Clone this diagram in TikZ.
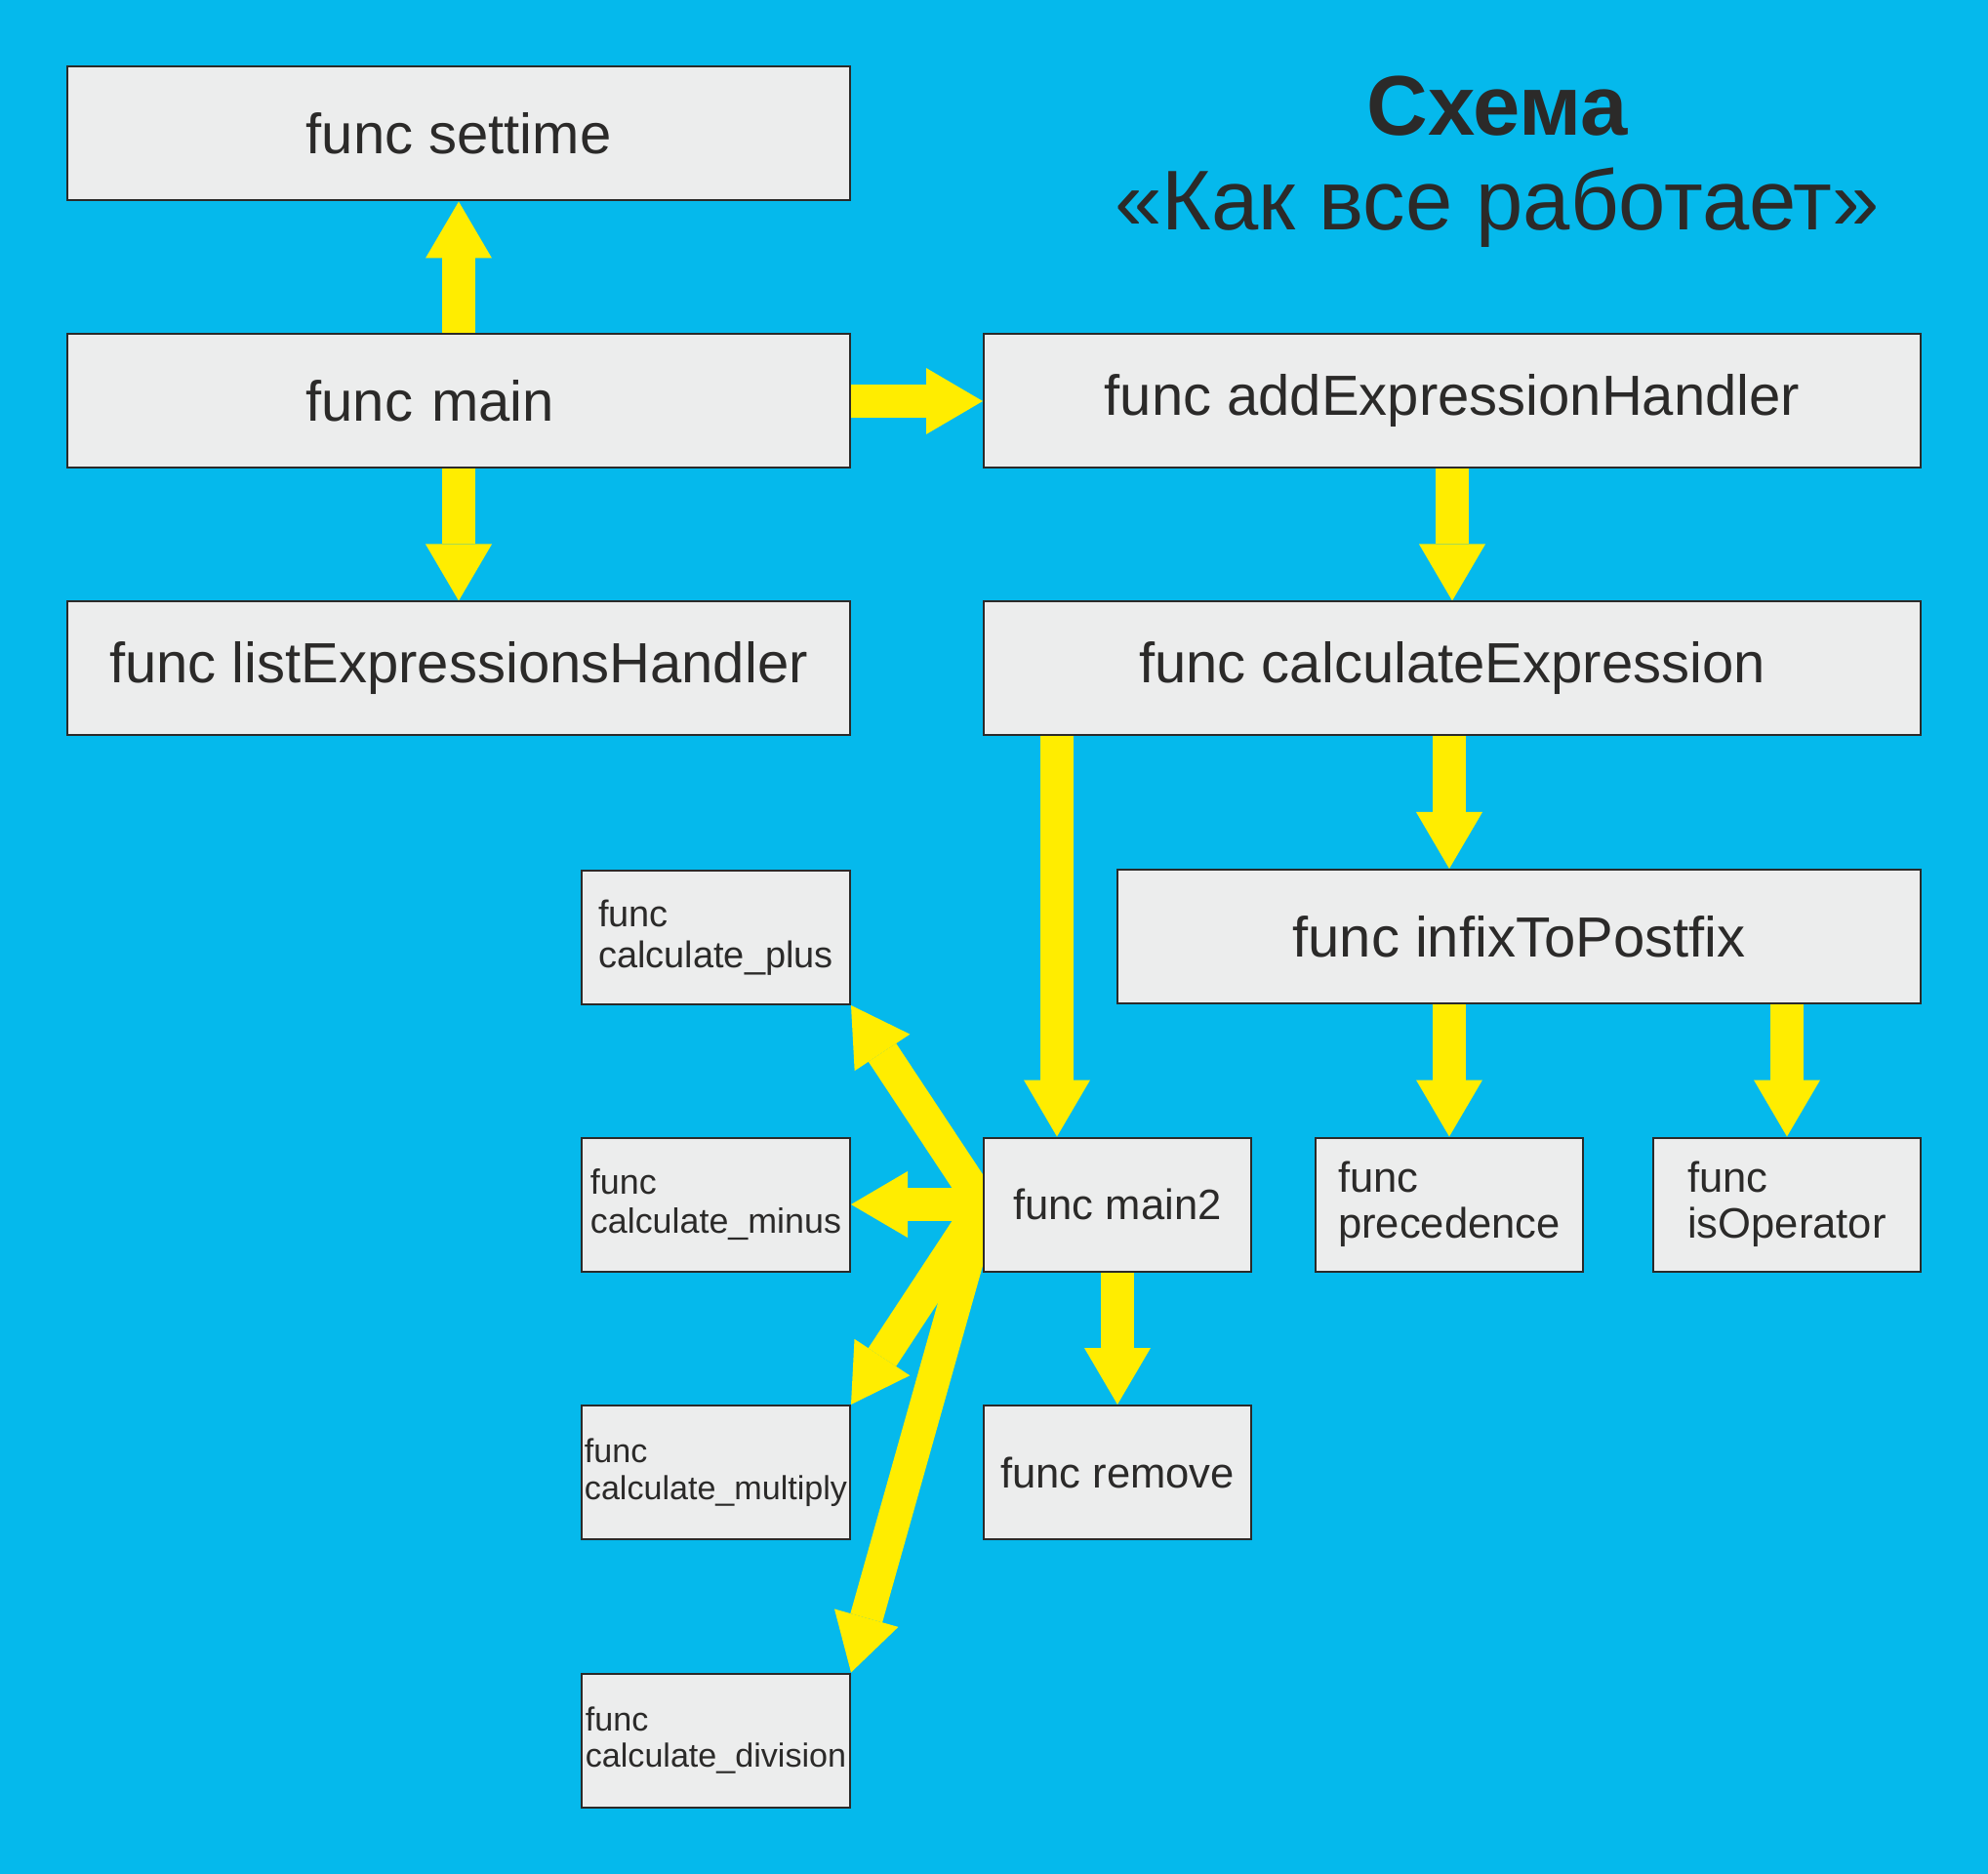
\documentclass[tikz,border=0pt]{standalone}
\usepackage{fontspec}
\setmainfont{Liberation Sans}
\usepackage{xcolor}
\usepackage{tikz}
\usetikzlibrary{arrows.meta,positioning,calc,backgrounds}
\definecolor{Sky}{HTML}{05B9EC}
\definecolor{Lemon}{HTML}{FFED00}
\definecolor{Paper}{HTML}{ECEDED}
\definecolor{Ink}{HTML}{2B2A29}

\begin{document}
\begin{tikzpicture}[
    bigbox/.style={draw=Ink,line width=0.2mm,fill=Paper,text=Ink,inner sep=0pt,minimum width=80.2mm,minimum height=13.7mm,font=\fontsize{16.5}{19.8}\selectfont},
    midbox/.style={bigbox,minimum width=27.4mm,align=left,font=\fontsize{12.4}{13.4}\selectfont},
    calcbox/.style={bigbox,minimum width=27.5mm,align=left},
    heading/.style={text=Ink,anchor=base,font=\fontsize{24.7}{27.2}\selectfont},
    fat/.style={draw=Lemon,line width=3.4mm,-{Triangle[length=5.8mm,width=6.8mm,line width=0pt]}}]
    \useasboundingbox (0,0) rectangle (203.7mm,-192mm);
    \begin{scope}[on background layer]
      \fill[Sky] (0,0) rectangle (203.7mm,-192mm);
    \end{scope}
    % title
    \node[heading,font=\fontsize{24.7}{27.2}\selectfont\bfseries] (title) at (153.4mm,-13.9mm) {Схема};
    \node[heading] (subtitle) at (153.4mm,-23.6mm) {«Как все работает»};
    % left column
    \node[bigbox] (settime) at (47mm,-13.7mm) {func settime};
    \node[bigbox,text width=31.3mm] (main) at (47mm,-41.1mm) {func main};
    \node[bigbox] (listexpr) at (47mm,-68.5mm) {func listExpressionsHandler};
    % right column
    \node[bigbox,minimum width=96mm] (addexpr) at (148.8mm,-41.1mm) {func addExpressionHandler};
    \node[bigbox,minimum width=96mm] (calcexpr) at (148.8mm,-68.5mm) {func calculateExpression};
    \node[bigbox,minimum width=82.3mm] (infix) at (155.65mm,-95.95mm) {func infixToPostfix};
    \node[midbox] (main2) at (114.5mm,-123.4mm) {func main2};
    \node[midbox] (prec) at (148.5mm,-123.4mm) {func\\precedence};
    \node[midbox] (isop) at (183.1mm,-123.4mm) {func\\isOperator};
    \node[midbox] (remove) at (114.5mm,-150.85mm) {func remove};
    % calculators
    \node[calcbox,font=\fontsize{10.8}{11.95}\selectfont] (plus) at (73.35mm,-96.05mm) {func\\calculate\_plus};
    \node[calcbox,font=\fontsize{10.2}{11.4}\selectfont] (minus) at (73.35mm,-123.4mm) {func\\calculate\_minus};
    \node[calcbox,font=\fontsize{9.7}{10.8}\selectfont] (multiply) at (73.35mm,-150.85mm) {func\\calculate\_multiply};
    \node[calcbox,font=\fontsize{9.7}{10.6}\selectfont] (division) at (73.35mm,-178.3mm) {func\\calculate\_division};
    % arrows
    \begin{scope}[on background layer]
      \draw[fat] (main.north) -- (settime.south);
      \draw[fat] (main.south) -- (listexpr.north);
      \draw[fat] (main.east) -- (addexpr.west);
      \draw[fat] (addexpr.south) -- (calcexpr.north);
      \draw[fat] (prec.north |- calcexpr.south) -- (prec.north |- infix.north);
      \draw[fat] ([xshift=7.6mm]calcexpr.south west) -- ([xshift=7.6mm]calcexpr.south west |- main2.north);
      \draw[fat] (infix.south -| prec.north) -- (prec.north);
      \draw[fat] (infix.south -| isop.north) -- (isop.north);
      \draw[fat] (main2.south) -- (remove.north);
      \foreach \dst/\anc in {plus/south east,minus/east,multiply/north east,division/north east}
        \draw[fat] (main2.west) -- (\dst.\anc);
    \end{scope}
\end{tikzpicture}
\end{document}
